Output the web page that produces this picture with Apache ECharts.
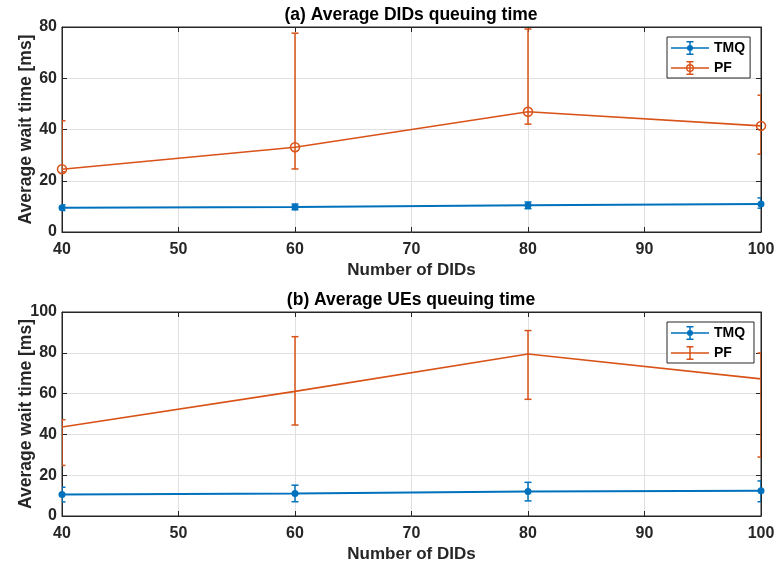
<!DOCTYPE html>
<html>
<head>
<meta charset="utf-8">
<script src="https://cdn.jsdelivr.net/npm/echarts@6/dist/echarts.min.js"></script>
<style>
html,body{margin:0;padding:0;background:#fff;}
#chart{width:777px;height:571px;}
</style>
</head>
<body>
<div id="chart"></div>
<script>
// ---- data ----
const didCounts = [40, 60, 80, 100];
const xTicks = [40, 50, 60, 70, 80, 90, 100];
const yTicksA = [0, 20, 40, 60, 80];
const yTicksB = [0, 20, 40, 60, 80, 100];

// (a) Average DIDs queuing time
const tmqA = [9.5, 9.8, 10.4, 10.9];
const tmqALow = [8.4, 8.7, 9.1, 9.3];
const tmqAHigh = [10.6, 10.9, 11.7, 13.3];
const pfA = [24.5, 33.1, 46.9, 41.4];
const pfALow = [23.5, 24.6, 42.1, 30.4];
const pfAHigh = [43.4, 77.6, 79.2, 53.4];

// (b) Average UEs queuing time
const tmqB = [10.6, 11.0, 12.0, 12.4];
const tmqBLow = [6.9, 7.0, 7.4, 7.0];
const tmqBHigh = [14.1, 15.1, 16.5, 17.2];
const pfB = [43.6, 61.1, 79.4, 67.2];
const pfBLow = [24.8, 44.6, 57.2, 28.9];
const pfBHigh = [47.2, 87.9, 90.9, 79.9];

const titles = ['(a) Average DIDs queuing time', '(b) Average UEs queuing time'];
const xName = 'Number of DIDs';
const yName = 'Average wait time [ms]';

// ---- style ----
const BLUE = '#0072BD';
const ORANGE = '#D95319';
const INK = '#262626';
const FONT = 'Liberation Sans, Arial, Helvetica, sans-serif';

const chart = echarts.init(document.getElementById('chart'), null, {renderer: 'canvas'});

function pts(xs, ys) { return xs.map((x, i) => [x, ys[i]]); }
function errData(xs, lo, hi) { return xs.map((x, i) => [x, lo[i], hi[i]]); }

function errRender(color) {
  return function (params, api) {
    const x = api.value(0);
    const pLo = api.coord([x, api.value(1)]);
    const pHi = api.coord([x, api.value(2)]);
    const hw = 3.5;
    const st = {stroke: color, lineWidth: 1.5, fill: null};
    return {
      type: 'group',
      children: [
        {type: 'line', shape: {x1: pLo[0], y1: pLo[1], x2: pHi[0], y2: pHi[1]}, style: st},
        {type: 'line', shape: {x1: pLo[0] - hw, y1: pLo[1], x2: pLo[0] + hw, y2: pLo[1]}, style: st},
        {type: 'line', shape: {x1: pHi[0] - hw, y1: pHi[1], x2: pHi[0] + hw, y2: pHi[1]}, style: st}
      ]
    };
  };
}

const gridsDef = [
  {left: 62, right: 16, top: 27, height: 205},
  {left: 62, right: 16, top: 312, height: 204}
];

const iconTMQ = 'path://M0 6.25H38V7.75H0Z M18.25 0H19.75V14H18.25Z M15.5 0H22.5V1.5H15.5Z M15.5 12.5H22.5V14H15.5Z M22 7A3 3 0 1 1 16 7A3 3 0 1 1 22 7Z';
const iconPFa = 'path://M0 6.25H38V7.75H0Z M18.25 0H19.75V14H18.25Z M15.5 0H22.5V1.5H15.5Z M15.5 12.5H22.5V14H15.5Z M23 7A4 4 0 1 1 15 7A4 4 0 1 1 23 7Z M21.6 7A2.6 2.6 0 1 0 16.4 7A2.6 2.6 0 1 0 21.6 7Z';
const iconPFb = 'path://M0 6.25H38V7.75H0Z M18.25 0H19.75V14H18.25Z M15.5 0H22.5V1.5H15.5Z M15.5 12.5H22.5V14H15.5Z';

const xAxes = [], yAxes = [];
gridsDef.forEach((g, i) => {
  const yMax = i === 0 ? 80 : 100;
  xAxes.push({
    type: 'value', gridIndex: i, min: 40, max: 100, interval: 10, position: 'bottom',
    name: xName, nameLocation: 'middle', nameGap: 30, nameMoveOverlap: false,
    nameTextStyle: {fontFamily: FONT, fontWeight: 'bold', fontSize: 17, color: INK},
    axisLine: {show: true, onZero: false, lineStyle: {color: INK, width: 1}},
    axisTick: {show: true, inside: true, length: 5, lineStyle: {color: INK}},
    axisLabel: {fontFamily: FONT, fontWeight: 'bold', fontSize: 16, color: INK, margin: 10},
    splitLine: {show: true, lineStyle: {color: '#e0e0e0', width: 1}}
  });
  xAxes.push({
    type: 'value', gridIndex: i, min: 40, max: 100, interval: 10, position: 'top',
    axisLine: {show: true, onZero: false, lineStyle: {color: INK, width: 1}},
    axisTick: {show: true, inside: true, length: 5, lineStyle: {color: INK}},
    axisLabel: {show: false}, splitLine: {show: false}
  });
  yAxes.push({
    type: 'value', gridIndex: i, min: 0, max: yMax, interval: 20, position: 'left',
    name: yName, nameLocation: 'middle', nameGap: 27, nameRotate: 90, nameMoveOverlap: false,
    nameTextStyle: {fontFamily: FONT, fontWeight: 'bold', fontSize: 17.5, color: INK},
    axisLine: {show: true, onZero: false, lineStyle: {color: INK, width: 1}},
    axisTick: {show: true, inside: true, length: 5, lineStyle: {color: INK}},
    axisLabel: {fontFamily: FONT, fontWeight: 'bold', fontSize: 16, color: INK, margin: 5},
    splitLine: {show: true, lineStyle: {color: '#e0e0e0', width: 1}}
  });
  yAxes.push({
    type: 'value', gridIndex: i, min: 0, max: yMax, interval: 20, position: 'right',
    axisLine: {show: true, onZero: false, lineStyle: {color: INK, width: 1}},
    axisTick: {show: true, inside: true, length: 5, lineStyle: {color: INK}},
    axisLabel: {show: false}, splitLine: {show: false}
  });
});

const legendText = {fontFamily: FONT, fontWeight: 'bold', fontSize: 14, color: '#000'};
const legends = [
  {
    left: 667, top: 37, orient: 'vertical', itemWidth: 38, itemHeight: 14, itemGap: 6,
    padding: [4, 5, 3, 4], borderColor: INK, borderWidth: 1, backgroundColor: '#fff',
    textStyle: legendText, selectedMode: false,
    data: [
      {name: 'TMQ', icon: iconTMQ, itemStyle: {color: BLUE, borderWidth: 0}},
      {name: 'PF', icon: iconPFa, itemStyle: {color: ORANGE, borderWidth: 0}}
    ]
  },
  {
    left: 667, top: 322, orient: 'vertical', itemWidth: 38, itemHeight: 14, itemGap: 6,
    padding: [4, 5, 3, 4], borderColor: INK, borderWidth: 1, backgroundColor: '#fff',
    textStyle: legendText, selectedMode: false,
    data: [
      {name: 'TMQ ', icon: iconTMQ, itemStyle: {color: BLUE, borderWidth: 0}},
      {name: 'PF ', icon: iconPFb, itemStyle: {color: ORANGE, borderWidth: 0}}
    ]
  }
];

const series = [
  // chart (a)
  {type: 'custom', name: 'TMQ', xAxisIndex: 0, yAxisIndex: 0, clip: true, z: 3,
   renderItem: errRender(BLUE), data: errData(didCounts, tmqALow, tmqAHigh), itemStyle: {color: BLUE}},
  {type: 'line', name: 'TMQ', xAxisIndex: 0, yAxisIndex: 0, data: pts(didCounts, tmqA), z: 4,
   symbol: 'circle', symbolSize: 7, lineStyle: {color: BLUE, width: 2},
   itemStyle: {color: BLUE}, clip: true},
  {type: 'custom', name: 'PF', xAxisIndex: 0, yAxisIndex: 0, clip: true, z: 3,
   renderItem: errRender(ORANGE), data: errData(didCounts, pfALow, pfAHigh), itemStyle: {color: ORANGE}},
  {type: 'line', name: 'PF', xAxisIndex: 0, yAxisIndex: 0, data: pts(didCounts, pfA), z: 4,
   symbol: 'circle', symbolSize: 9, lineStyle: {color: ORANGE, width: 1.6},
   itemStyle: {color: 'rgba(0,0,0,0)', borderColor: ORANGE, borderWidth: 1.5}, clip: true},
  // chart (b)
  {type: 'custom', name: 'TMQ ', xAxisIndex: 2, yAxisIndex: 2, clip: true, z: 3,
   renderItem: errRender(BLUE), data: errData(didCounts, tmqBLow, tmqBHigh), itemStyle: {color: BLUE}},
  {type: 'line', name: 'TMQ ', xAxisIndex: 2, yAxisIndex: 2, data: pts(didCounts, tmqB), z: 4,
   symbol: 'circle', symbolSize: 7, lineStyle: {color: BLUE, width: 2},
   itemStyle: {color: BLUE}, clip: true},
  {type: 'custom', name: 'PF ', xAxisIndex: 2, yAxisIndex: 2, clip: true, z: 3,
   renderItem: errRender(ORANGE), data: errData(didCounts, pfBLow, pfBHigh), itemStyle: {color: ORANGE}},
  {type: 'line', name: 'PF ', xAxisIndex: 2, yAxisIndex: 2, data: pts(didCounts, pfB), z: 4,
   symbol: 'none', lineStyle: {color: ORANGE, width: 1.6},
   itemStyle: {color: ORANGE}, clip: true}
];

chart.setOption({
  backgroundColor: '#fff',
  animation: false,
  textStyle: {fontFamily: FONT},
  title: [
    {text: titles[0], left: 411, top: 6, textAlign: 'center', padding: 0,
     textStyle: {fontFamily: FONT, fontWeight: 'bold', fontSize: 17.5, color: '#000'}},
    {text: titles[1], left: 411, top: 291, textAlign: 'center', padding: 0,
     textStyle: {fontFamily: FONT, fontWeight: 'bold', fontSize: 17.5, color: '#000'}}
  ],
  legend: legends,
  grid: gridsDef.map(g => Object.assign({show: true, borderColor: INK, borderWidth: 1,
    backgroundColor: 'transparent', containLabel: false, outerBoundsMode: 'none'}, g)),
  xAxis: xAxes,
  yAxis: yAxes,
  series: series
});
</script>
</body>
</html>
